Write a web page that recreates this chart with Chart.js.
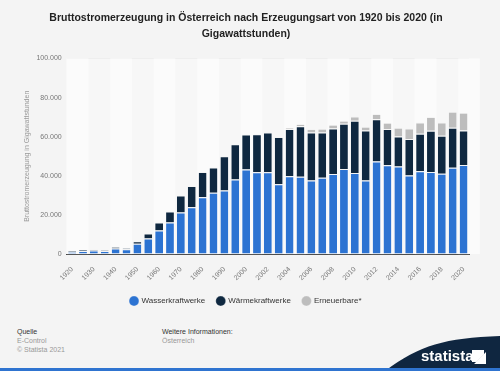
<!DOCTYPE html>
<html>
<head>
<meta charset="utf-8">
<script src="https://cdn.jsdelivr.net/npm/chart.js@4"></script>
<style>
  body { margin: 0; background: #f4f4f4; font-family: "Liberation Sans", Arial, sans-serif; }
  #wrap { position: relative; width: 500px; height: 371px; overflow: hidden; background: #f4f4f4; }
  #c { position: absolute; left: 0; top: 0; }
  .ft { position: absolute; font-size: 7px; line-height: 9px; color: #333; }
  .ft span { color: #999; }
</style>
</head>
<body>
<div id="wrap">
  <canvas id="c" width="500" height="315"></canvas>
  <div class="ft" style="left:17px; top:327px;">Quelle<br><span>E-Control</span><br><span>© Statista 2021</span></div>
  <div class="ft" style="left:162px; top:327px;">Weitere Informationen:<br><span>Österreich</span></div>
  <svg style="position:absolute; left:0; top:0;" width="500" height="371">
    <path d="M385 371 C 420 345, 445 338, 500 336 L 500 371 Z" fill="#0f2640"/>
    <rect x="0" y="368" width="500" height="3" fill="#2f74d0"/>
    <text x="421" y="361" fill="#fff" font-family="Liberation Sans, Arial" font-weight="bold" font-size="15">statista</text>
    <path d="M472 350 L484 350 L484 354 L476 362 L472 362 Z M486 352 L486 364 L474 364 Z" fill="#fff"/>
  </svg>
</div>
<script>
// Jahre (Kategorien)
var years = ['1920', '1925', '1930', '1935', '1940', '1945', '1950', '1955', '1960', '1965',
  '1970', '1975', '1980', '1985', '1990', '1995', '2000', '2001', '2002', '2003', '2004',
  '2005', '2006', '2007', '2008', '2009', '2010', '2011', '2012', '2013', '2014', '2015',
  '2016', '2017', '2018', '2019', '2020'];

// Wasserkraftwerke in GWh
var hydro = [1200, 1600, 1800, 1600, 2900, 2500, 5300, 7900, 12000, 16100,
  21300, 23900, 29000, 31300, 32500, 38100, 43300, 41800, 41800, 35700, 39800,
  39500, 37600, 39000, 40900, 43500, 41400, 37600, 47300, 45400, 44800, 40200,
  42400, 41900, 41000, 44100, 45500];

// Wärmekraftwerke in GWh
var thermal = [400, 500, 600, 300, 700, 500, 1200, 2600, 4100, 5700,
  8600, 10900, 12900, 13000, 17500, 18100, 17800, 19500, 20400, 24100, 24100,
  25800, 24600, 23200, 23300, 23100, 26800, 25600, 21600, 18500, 15300, 18600,
  19100, 21100, 19500, 20500, 17700];

// Erneuerbare* in GWh
var renew = [0, 0, 0, 0, 0, 0, 0, 0, 0, 0,
  0, 0, 0, 0, 0, 0, 0, 0, 0, 0, 500,
  1200, 1700, 1900, 1900, 1600, 2100, 1900, 2700, 3300, 4500, 5400,
  5800, 7100, 6800, 8200, 9000];

var yTicks = [0, 20000, 40000, 60000, 80000, 100000];

var font = '"Liberation Sans", Arial, sans-serif';

// streifen im hintergrund
var bands = {
  id: 'bands',
  beforeDatasetsDraw: function (chart) {
    var ctx = chart.ctx, x = chart.scales.x, a = chart.chartArea;
    var w = (a.right - a.left) / years.length;
    ctx.save();
    ctx.fillStyle = '#f7f7f7';
    ctx.fillRect(a.left, a.top, a.right - a.left, a.bottom - a.top);
    ctx.fillStyle = '#fbfbfb';
    for (var i = 0; i < years.length; i += 4) {
      ctx.fillRect(x.getPixelForValue(i) - w / 2, a.top, w * 2, a.bottom - a.top);
    }
    ctx.restore();
  }
};

var ctx = document.getElementById('c').getContext('2d');
var c = new Chart(ctx, {
  type: 'bar',
  data: {
    labels: years,
    datasets: [
      { label: 'Wasserkraftwerke', data: hydro, backgroundColor: '#2c73d2' },
      { label: 'Wärmekraftwerke', data: thermal, backgroundColor: '#0f2840' },
      { label: 'Erneuerbare*', data: renew, backgroundColor: '#bdbdbd' }
    ]
  },
  options: {
    responsive: false,
    animation: false,
    datasets: {
      bar: {
        categoryPercentage: 0.72,
        barPercentage: 1,
        borderColor: '#f4f4f4',
        borderWidth: { top: 1, left: 0, right: 0, bottom: 0 },
        borderSkipped: false
      }
    },
    layout: { padding: { left: 23, right: 31, top: 0, bottom: 0 } },
    plugins: {
      title: {
        display: true,
        text: ['Bruttostromerzeugung in Österreich nach Erzeugungsart von 1920 bis 2020 (in', 'Gigawattstunden)'],
        color: '#222',
        font: { family: font, size: 10.5, weight: 'bold', lineHeight: 1.5 },
        padding: { top: 10, bottom: 17 }
      },
      legend: {
        position: 'bottom',
        labels: {
          usePointStyle: true,
          pointStyle: 'circle',
          boxWidth: 7,
          boxHeight: 7,
          padding: 12,
          color: '#333',
          font: { family: font, size: 8 }
        }
      },
      tooltip: { enabled: false }
    },
    scales: {
      x: {
        stacked: true,
        grid: { display: false },
        border: { color: '#444', width: 1 },
        ticks: {
          autoSkip: false,
          minRotation: 45,
          maxRotation: 45,
          color: '#777',
          font: { family: font, size: 7 },
          callback: function (v, i) { return i % 2 == 0 ? years[i] : ''; }
        }
      },
      y: {
        stacked: true,
        min: 0,
        max: 100000,
        afterBuildTicks: function (s) { s.ticks = yTicks.map(function (v) { return { value: v }; }); },
        grid: { color: '#e4e4e4', drawTicks: false },
        border: { display: false },
        ticks: {
          padding: 5,
          color: '#777',
          font: { family: font, size: 7 },
          callback: function (v) { return v.toLocaleString('de-DE'); }
        },
        title: {
          display: true,
          text: 'Bruttostromerzeugung in Gigawattstunden',
          color: '#999',
          font: { family: font, size: 7 },
          padding: { top: 0, bottom: 0 }
        }
      }
    }
  },
  plugins: [bands]
});
</script>
</body>
</html>
